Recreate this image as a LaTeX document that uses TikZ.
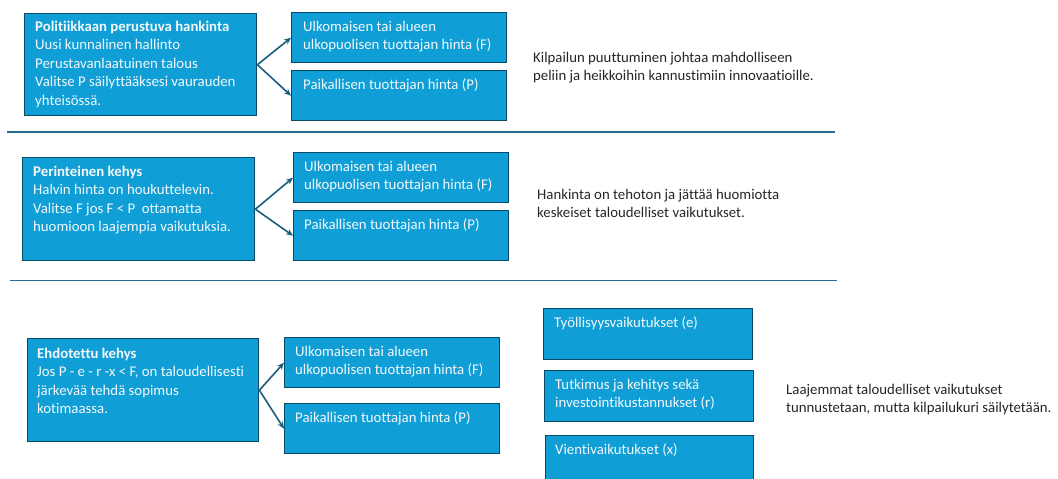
\documentclass[tikz,border=0pt]{standalone}
\usepackage{fontspec}
\setmainfont[Ligatures=NoCommon]{Carlito}
\usetikzlibrary{arrows.meta}
\definecolor{boxfill}{HTML}{0F9ED5}
\definecolor{boxline}{HTML}{0B4A66}
\definecolor{arrowc}{HTML}{1A5E80}
\definecolor{sepc}{HTML}{2A6A90}
\definecolor{txt}{HTML}{262626}
\definecolor{intxt}{HTML}{F4F8FB}
\begin{document}
\begin{tikzpicture}[x=1pt,y=-1pt,
  box/.style={draw=boxline, line width=1.4pt, fill=boxfill, anchor=north west, inner sep=0pt},
  intext/.style={anchor=north west, inner sep=0pt, align=left, text=intxt, font=\fontsize{14.8}{18.5}\selectfont},
  outtext/.style={anchor=north west, inner sep=0pt, align=left, text=txt, font=\fontsize{14.8}{18.5}\selectfont},
  conn/.style={draw=arrowc, line width=1.6pt, -{Stealth[length=7pt,width=6pt]}},
  sep/.style={draw=sepc, line width=1.8pt}
]
\clip (0,0) rectangle (1058,479);
\useasboundingbox (0,0) rectangle (1058,479);
\fill[white] (0,0) rectangle (1058,479);

% separators
\coordinate (s1a) at (7,132);
\coordinate (s1b) at (835,132);
\coordinate (s2a) at (10,280.5);
\coordinate (s2b) at (837,280.5);
\draw[sep] (s1a) -- (s1b);
\draw[sep] (s2a) -- (s2b);

% row 1
\node[box, minimum width=232pt, minimum height=102pt] (m1) at (24,13) {};
\node[box, minimum width=215pt, minimum height=50pt] (f1) at (291,12) {};
\node[box, minimum width=215pt, minimum height=50pt] (p1) at (291,70) {};
\node[intext] (m1t) at (35,18) {\strut\textbf{Politiikkaan perustuva hankinta}\\Uusi kunnalinen hallinto\\Perustavanlaatuinen talous\\Valitse P säilyttääksesi vaurauden\\yhteisössä.};
\node[intext] (f1t) at (303,18) {\strut Ulkomaisen tai alueen\\ulkopuolisen tuottajan hinta (F)};
\node[intext] (p1t) at (303,76) {\strut Paikallisen tuottajan hinta (P)};
\node[outtext] (o1) at (533,49) {\strut Kilpailun puuttuminen johtaa mahdolliseen\\peliin ja heikkoihin kannustimiin innovaatioille.};
\draw[conn] (m1.east) -- (f1.west);
\draw[conn] (m1.east) -- (p1.west);

% row 2
\node[box, minimum width=232pt, minimum height=103pt] (m2) at (22,157) {};
\node[box, minimum width=215pt, minimum height=50pt] (f2) at (293,152) {};
\node[box, minimum width=215pt, minimum height=50pt] (p2) at (293,210) {};
\node[intext] (m2t) at (33,163) {\strut\textbf{Perinteinen kehys}\\Halvin hinta on houkuttelevin.\\Valitse F jos F < P\ \ ottamatta\\huomioon laajempia vaikutuksia.};
\node[intext] (f2t) at (304,158) {\strut Ulkomaisen tai alueen\\ulkopuolisen tuottajan hinta (F)};
\node[intext] (p2t) at (304,216) {\strut Paikallisen tuottajan hinta (P)};
\node[outtext] (o2) at (537,186) {\strut Hankinta on tehoton ja jättää huomiotta\\keskeiset taloudelliset vaikutukset.};
\draw[conn] (m2.east) -- (f2.west);
\draw[conn] (m2.east) -- (p2.west);

% row 3
\node[box, minimum width=231pt, minimum height=103pt] (m3) at (27,338) {};
\node[box, minimum width=215pt, minimum height=50pt] (f3) at (284,337) {};
\node[box, minimum width=215pt, minimum height=50pt] (p3) at (284,403) {};
\node[intext] (m3t) at (37,345) {\strut\textbf{Ehdotettu kehys}\\Jos P - e - r -x < F, on taloudellisesti\\järkevää tehdä sopimus\\kotimaassa.};
\node[intext] (f3t) at (295,343) {\strut Ulkomaisen tai alueen\\ulkopuolisen tuottajan hinta (F)};
\node[intext] (p3t) at (295,409) {\strut Paikallisen tuottajan hinta (P)};
\draw[conn] (m3.east) -- (f3.west);
\draw[conn] (m3.east) -- (p3.west);

\node[box, minimum width=209pt, minimum height=51pt] (r1) at (543,308) {};
\node[box, minimum width=209pt, minimum height=51pt] (r2) at (544,370) {};
\node[box, minimum width=208pt, minimum height=50pt] (r3) at (545,435) {};
\node[intext] (r1t) at (554,314) {\strut Työllisyysvaikutukset (e)};
\node[intext] (r2t) at (555,376) {\strut Tutkimus ja kehitys sekä\\investointikustannukset (r)};
\node[intext] (r3t) at (555,441) {\strut Vientivaikutukset (x)};
\node[outtext] (o3) at (786,381) {\strut Laajemmat taloudelliset vaikutukset\\tunnustetaan, mutta kilpailukuri säilytetään.};
\end{tikzpicture}
\end{document}
